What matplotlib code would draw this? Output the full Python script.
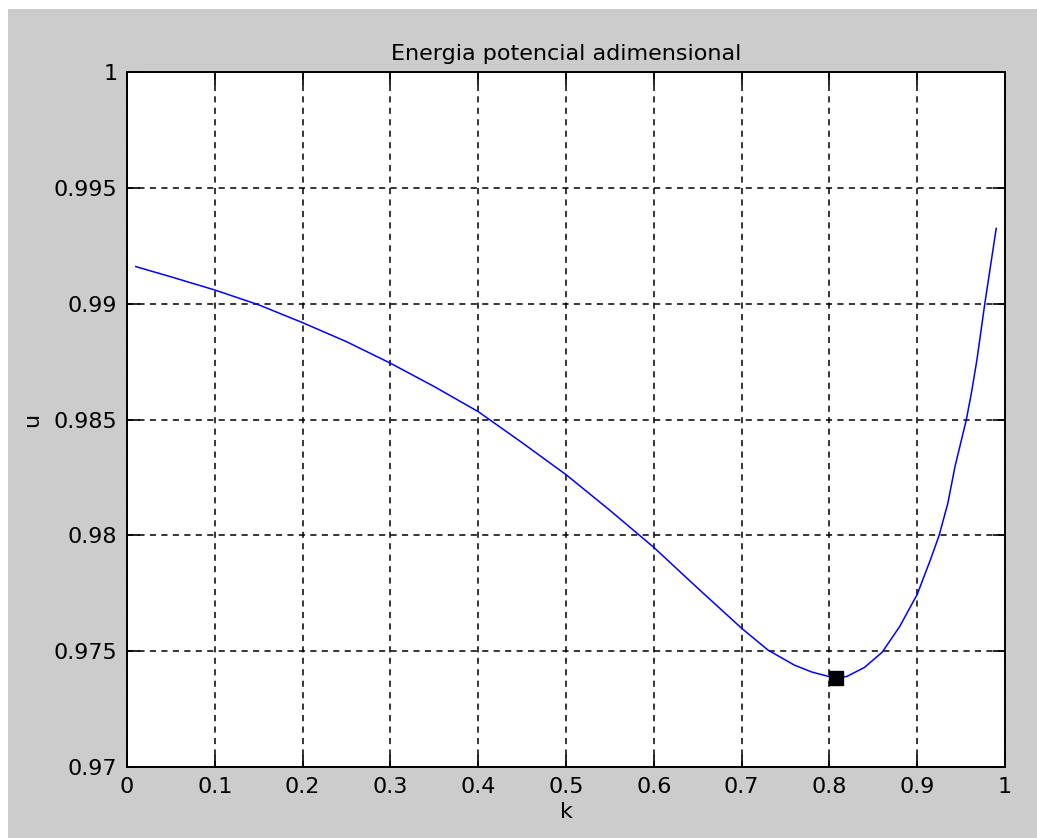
import matplotlib
matplotlib.use("Agg")
import matplotlib.pyplot as plt
from matplotlib.patches import Rectangle

# valores
k = [0.01, 0.05, 0.10, 0.15, 0.20, 0.25, 0.30, 0.35, 0.40, 0.45,
     0.50, 0.55, 0.60, 0.65, 0.70, 0.73, 0.76, 0.78, 0.80, 0.81,
     0.82, 0.84, 0.86, 0.88, 0.90, 0.915, 0.925, 0.935, 0.943, 0.956,
     0.962, 0.968, 0.977, 0.983, 0.99]
u = [0.99160, 0.99116, 0.99059, 0.98995, 0.98918, 0.98836, 0.98743, 0.98642, 0.98534, 0.98400,
     0.98262, 0.98108, 0.97948, 0.97772, 0.97599, 0.97505, 0.97440, 0.97410, 0.97390, 0.97385,
     0.97391, 0.97430, 0.97495, 0.97606, 0.97745, 0.97894, 0.98000, 0.98140, 0.98296, 0.98500,
     0.98620, 0.98757, 0.99000, 0.99150, 0.99325]

# minimo marcado
k_min = [0.808]
u_min = [0.97385]

xticks = [0, 0.1, 0.2, 0.3, 0.4, 0.5, 0.6, 0.7, 0.8, 0.9, 1]
xticklabels = ["0", "0.1", "0.2", "0.3", "0.4", "0.5", "0.6", "0.7", "0.8", "0.9", "1"]
yticks = [0.97, 0.975, 0.98, 0.985, 0.99, 0.995, 1]
yticklabels = ["0.97", "0.975", "0.98", "0.985", "0.99", "0.995", "1"]

W, H = 1037, 838
fig = plt.figure(figsize=(W / 100, H / 100), dpi=100, facecolor="white")
# fondo gris estilo MATLAB con borde blanco arriba/izquierda
fig.patches.append(Rectangle((8 / W, 0), 1, (H - 9) / H, transform=fig.transFigure,
                             facecolor="#cccccc", edgecolor="none", zorder=-10))

ax = fig.add_axes([127 / W, (H - 767) / H, (1005 - 127) / W, (767 - 72) / H])
ax.set_facecolor("white")

ax.plot(k, u, color="#0000ff", lw=1.1, zorder=3)
ax.plot(k_min, u_min, "s", color="black", markersize=9.5, zorder=4)

ax.set_xlim(0, 1)
ax.set_ylim(0.97, 1)
ax.set_xticks(xticks)
ax.set_xticklabels(xticklabels)
ax.set_yticks(yticks)
ax.set_yticklabels(yticklabels)

fs = 16
ax.grid(True, color="black", linestyle=(0, (4, 3.5)), linewidth=1.1)
ax.tick_params(direction="in", length=9, width=1.2, top=True, right=True,
               labelsize=fs, pad=7, colors="black")
for s in ax.spines.values():
    s.set_linewidth(1.4)

ax.set_title("Energia potencial adimensional", fontsize=fs, pad=9)
ax.set_xlabel("k", fontsize=fs, labelpad=4)
ax.set_ylabel("u", fontsize=fs, labelpad=8)

fig.savefig("out.png", dpi=100, facecolor=fig.get_facecolor())
